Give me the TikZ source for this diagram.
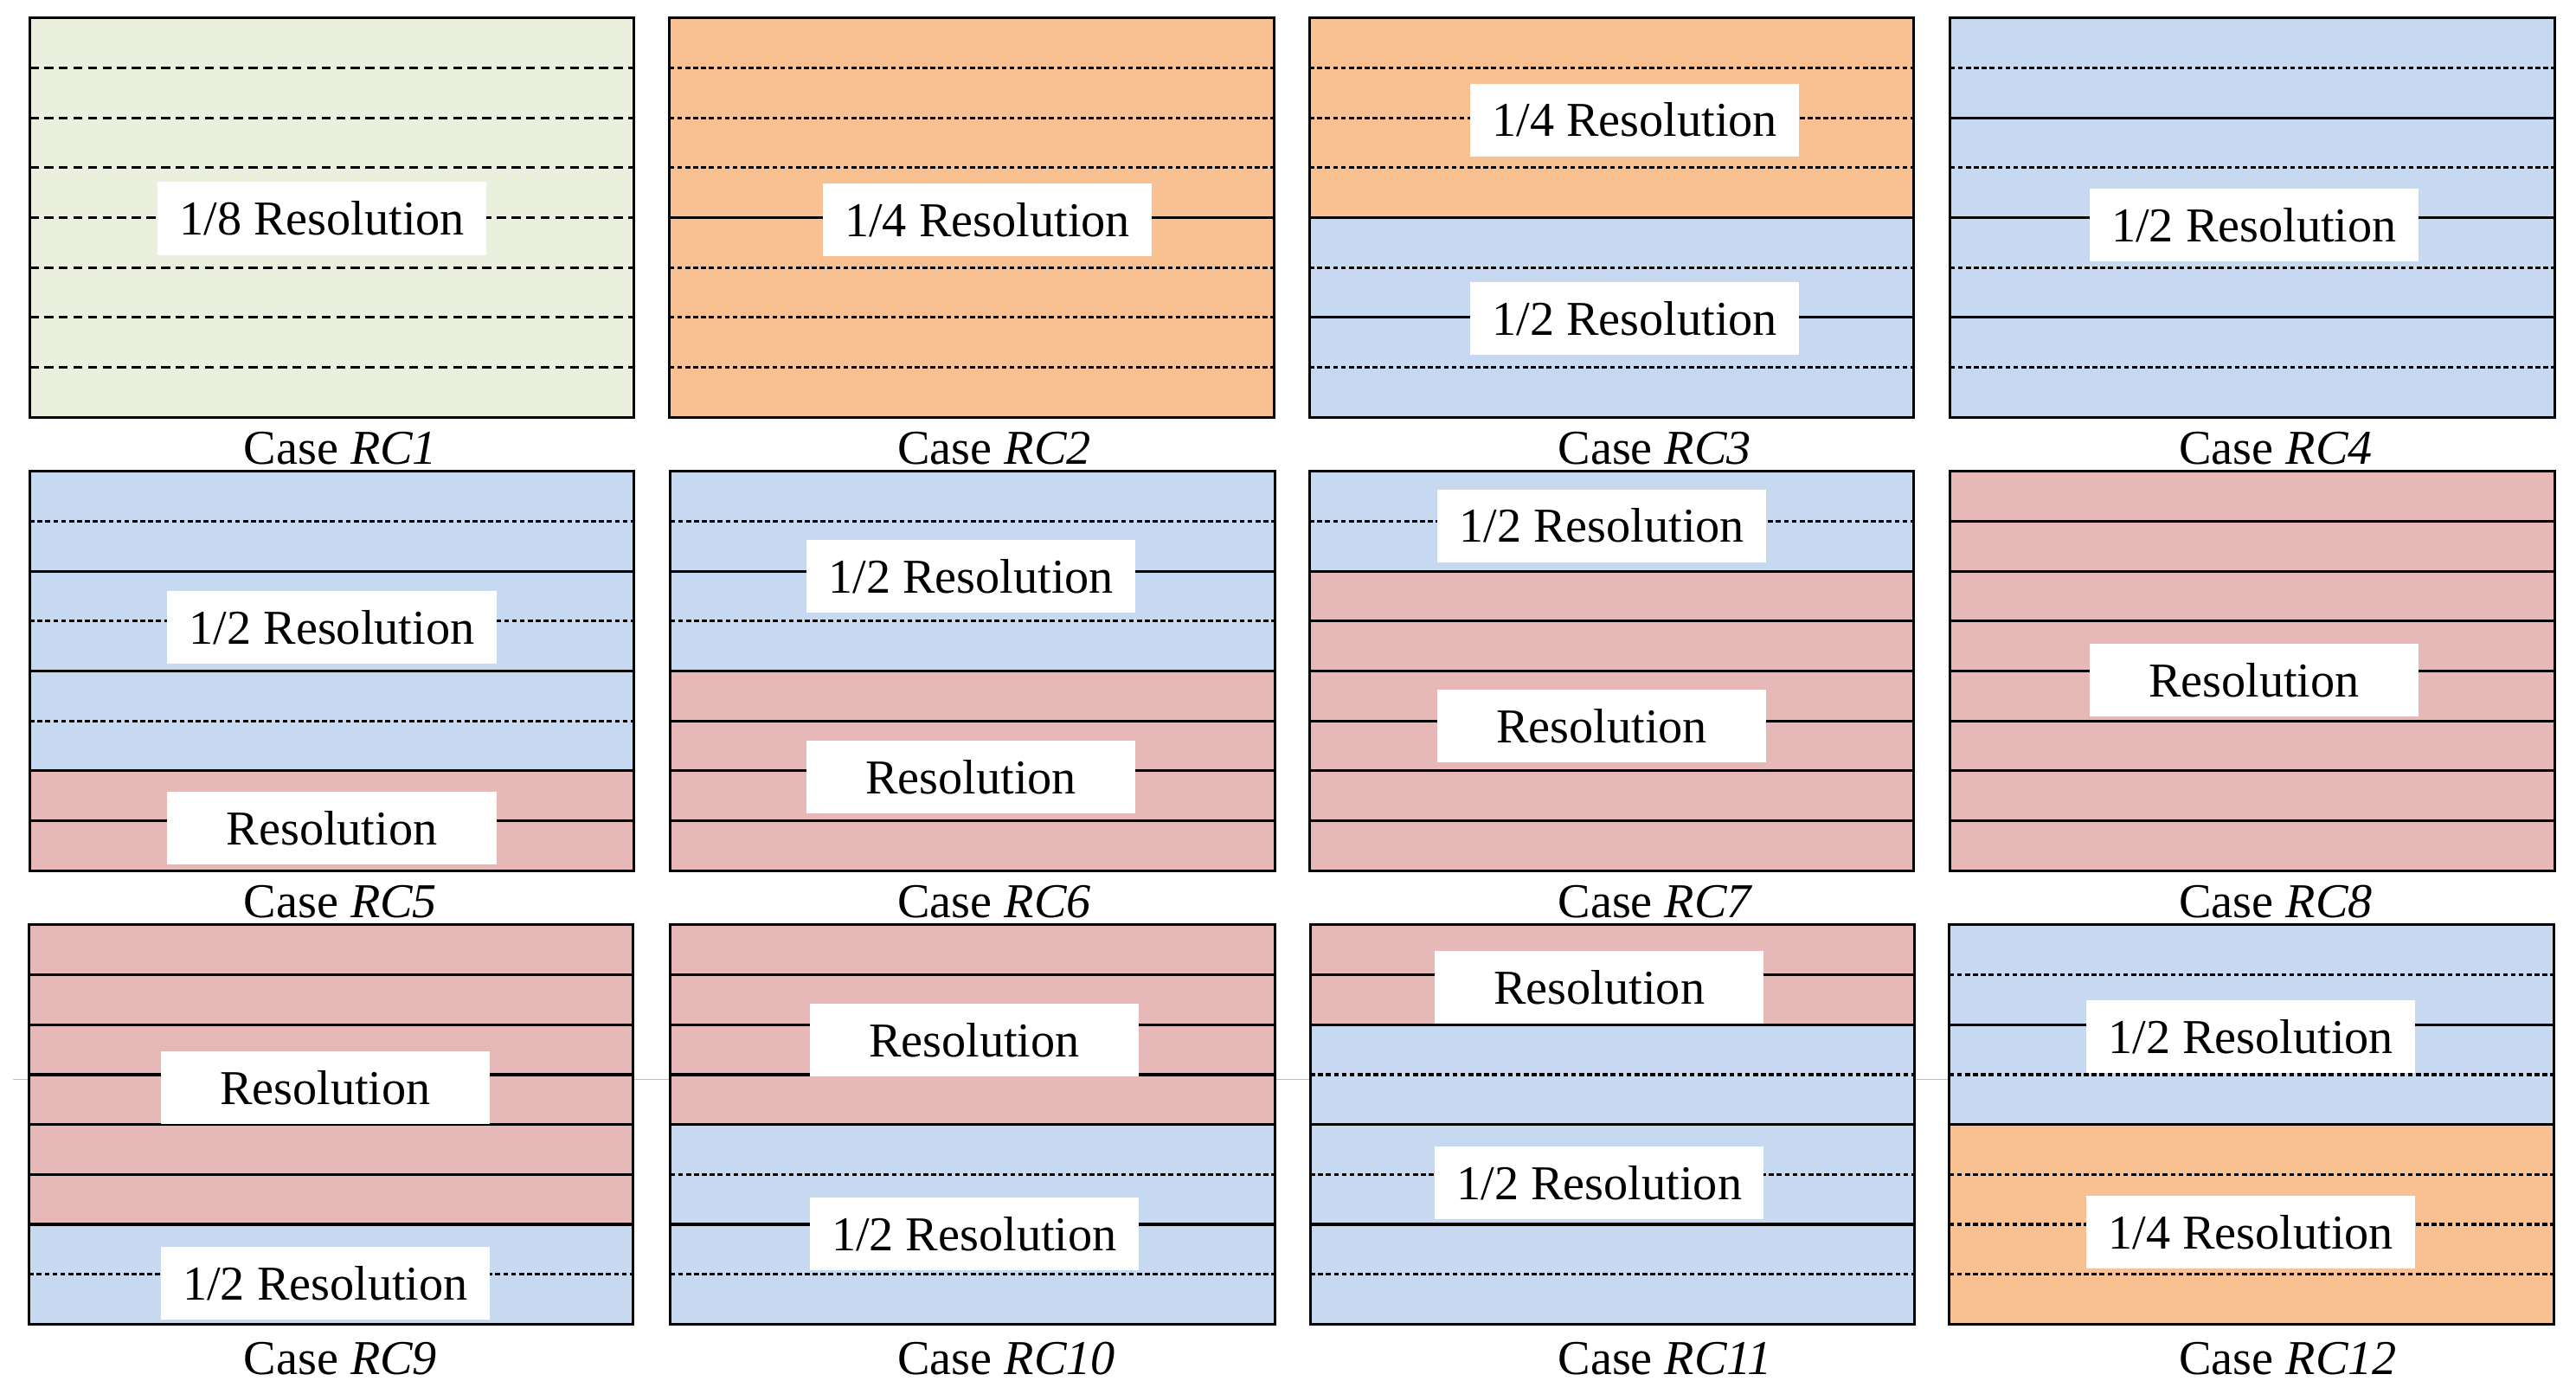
\documentclass[tikz,border=0pt]{standalone}
\usepackage{fontspec}
\setmainfont{Liberation Serif}
\usepackage{tikz}

\definecolor{rcgreen}{RGB}{235,240,222}
\definecolor{rcorange}{RGB}{249,192,145}
\definecolor{rcblue}{RGB}{198,217,240}
\definecolor{rcred}{RGB}{230,184,183}

\tikzset{
  panelframe/.style={draw=black, line width=0.9pt},
  solidln/.style={black, line width=0.9pt},
  halfln/.style={black, line width=0.9pt, dash pattern=on 1.6pt off 1pt},
  eighthln/.style={black, line width=0.8pt, dash pattern=on 3pt off 1.8pt},
  resbox/.style={fill=white, minimum width=3.8cm, minimum height=0.84cm, inner sep=0pt, font=\fontsize{16}{19}\selectfont},
  casetext/.style={anchor=west, inner sep=0pt, font=\fontsize{16}{19}\selectfont}
}

\begin{document}
\begin{tikzpicture}[x=0.018986cm, y=-0.018986cm]
\useasboundingbox (0,0) rectangle (1568,852);
\draw[black!25, line width=0.4pt] (8,657) -- (1192,657);

% row 1
\begin{scope}[shift={(18,11)}]
\fill[rcgreen] (0,0) rectangle (368,243);
\foreach \k in {1,...,7} \draw[eighthln] (0,\k*30.375) -- (368,\k*30.375);
\draw[panelframe] (0,0) rectangle (368,243);
\node[resbox] (res1) at (178,122) {1/8 Resolution};
\node[casetext] (case1) at (130,262) {Case \textit{RC1}};
\end{scope}

\begin{scope}[shift={(407.5,11)}]
\fill[rcorange] (0,0) rectangle (368,243);
\foreach \k/\ls in {1/halfln,2/halfln,3/halfln,4/solidln,5/halfln,6/halfln,7/halfln}
  \draw[\ls] (0,\k*30.375) -- (368,\k*30.375);
\draw[panelframe] (0,0) rectangle (368,243);
\node[resbox] (res2) at (193.5,123) {1/4 Resolution};
\node[casetext] (case2) at (138.5,262) {Case \textit{RC2}};
\end{scope}

\begin{scope}[shift={(797,11)}]
\fill[rcorange] (0,0) rectangle (368,121.5);
\fill[rcblue] (0,121.5) rectangle (368,243);
\foreach \k/\ls in {1/halfln,2/halfln,3/halfln,4/solidln,5/halfln,6/solidln,7/halfln}
  \draw[\ls] (0,\k*30.375) -- (368,\k*30.375);
\draw[panelframe] (0,0) rectangle (368,243);
\node[resbox] (res3a) at (198,62) {1/4 Resolution};
\node[resbox] (res3b) at (198,183) {1/2 Resolution};
\node[casetext] (case3) at (151,262) {Case \textit{RC3}};
\end{scope}

\begin{scope}[shift={(1187,11)}]
\fill[rcblue] (0,0) rectangle (368,243);
\foreach \k/\ls in {1/halfln,2/solidln,3/halfln,4/solidln,5/halfln,6/solidln,7/halfln}
  \draw[\ls] (0,\k*30.375) -- (368,\k*30.375);
\draw[panelframe] (0,0) rectangle (368,243);
\node[resbox] (res4) at (185,126) {1/2 Resolution};
\node[casetext] (case4) at (139,262) {Case \textit{RC4}};
\end{scope}

% row 2
\begin{scope}[shift={(18,287)}]
\fill[rcblue] (0,0) rectangle (368,182.25);
\fill[rcred] (0,182.25) rectangle (368,243);
\foreach \k/\ls in {1/halfln,2/solidln,3/halfln,4/solidln,5/halfln,6/solidln,7/solidln}
  \draw[\ls] (0,\k*30.375) -- (368,\k*30.375);
\draw[panelframe] (0,0) rectangle (368,243);
\node[resbox] (res5a) at (184,95) {1/2 Resolution};
\node[resbox] (res5b) at (184,217) {Resolution};
\node[casetext] (case5) at (130,262) {Case \textit{RC5}};
\end{scope}

\begin{scope}[shift={(408,287)}]
\fill[rcblue] (0,0) rectangle (368,121.5);
\fill[rcred] (0,121.5) rectangle (368,243);
\foreach \k/\ls in {1/halfln,2/solidln,3/halfln,4/solidln,5/solidln,6/solidln,7/solidln}
  \draw[\ls] (0,\k*30.375) -- (368,\k*30.375);
\draw[panelframe] (0,0) rectangle (368,243);
\node[resbox] (res6a) at (183,64) {1/2 Resolution};
\node[resbox] (res6b) at (183,186) {Resolution};
\node[casetext] (case6) at (138,262) {Case \textit{RC6}};
\end{scope}

\begin{scope}[shift={(797,287)}]
\fill[rcblue] (0,0) rectangle (368,60.75);
\fill[rcred] (0,60.75) rectangle (368,243);
\foreach \k/\ls in {1/halfln,2/solidln,3/solidln,4/solidln,5/solidln,6/solidln,7/solidln}
  \draw[\ls] (0,\k*30.375) -- (368,\k*30.375);
\draw[panelframe] (0,0) rectangle (368,243);
\node[resbox] (res7a) at (178,33) {1/2 Resolution};
\node[resbox] (res7b) at (178,155) {Resolution};
\node[casetext] (case7) at (151,262) {Case \textit{RC7}};
\end{scope}

\begin{scope}[shift={(1187,287)}]
\fill[rcred] (0,0) rectangle (368,243);
\foreach \k in {1,...,7} \draw[solidln] (0,\k*30.375) -- (368,\k*30.375);
\draw[panelframe] (0,0) rectangle (368,243);
\node[resbox] (res8) at (185,127) {Resolution};
\node[casetext] (case8) at (139,262) {Case \textit{RC8}};
\end{scope}

% row 3
\begin{scope}[shift={(17.5,563)}]
\fill[rcred] (0,0) rectangle (368,182.25);
\fill[rcblue] (0,182.25) rectangle (368,243);
\foreach \k/\ls in {1/solidln,2/solidln,3/solidln,4/solidln,5/solidln,6/solidln,7/halfln}
  \draw[\ls] (0,\k*30.375) -- (368,\k*30.375);
\draw[panelframe] (0,0) rectangle (368,243);
\node[resbox] (res9a) at (180.5,99) {Resolution};
\node[resbox] (res9b) at (180.5,218) {1/2 Resolution};
\node[casetext] (case9) at (130.5,264) {Case \textit{RC9}};
\end{scope}

\begin{scope}[shift={(408,563)}]
\fill[rcred] (0,0) rectangle (368,121.5);
\fill[rcblue] (0,121.5) rectangle (368,243);
\foreach \k/\ls in {1/solidln,2/solidln,3/solidln,4/solidln,5/halfln,6/solidln,7/halfln}
  \draw[\ls] (0,\k*30.375) -- (368,\k*30.375);
\draw[panelframe] (0,0) rectangle (368,243);
\node[resbox] (res10a) at (185,70) {Resolution};
\node[resbox] (res10b) at (185,188) {1/2 Resolution};
\node[casetext] (case10) at (138,264) {Case \textit{RC10}};
\end{scope}

\begin{scope}[shift={(797.5,563)}]
\fill[rcred] (0,0) rectangle (368,60.75);
\fill[rcblue] (0,60.75) rectangle (368,243);
\foreach \k/\ls in {1/solidln,2/solidln,3/halfln,4/solidln,5/halfln,6/solidln,7/halfln}
  \draw[\ls] (0,\k*30.375) -- (368,\k*30.375);
\draw[panelframe] (0,0) rectangle (368,243);
\node[resbox] (res11a) at (176,38) {Resolution};
\node[resbox] (res11b) at (176,157) {1/2 Resolution};
\node[casetext] (case11) at (150.5,264) {Case \textit{RC11}};
\end{scope}

\begin{scope}[shift={(1186.5,563)}]
\fill[rcblue] (0,0) rectangle (368,121.5);
\fill[rcorange] (0,121.5) rectangle (368,243);
\foreach \k/\ls in {1/halfln,2/solidln,3/halfln,4/solidln,5/halfln,6/halfln,7/halfln}
  \draw[\ls] (0,\k*30.375) -- (368,\k*30.375);
\draw[panelframe] (0,0) rectangle (368,243);
\node[resbox] (res12a) at (183.5,68) {1/2 Resolution};
\node[resbox] (res12b) at (183.5,187) {1/4 Resolution};
\node[casetext] (case12) at (139.5,264) {Case \textit{RC12}};
\end{scope}

\end{tikzpicture}
\end{document}
